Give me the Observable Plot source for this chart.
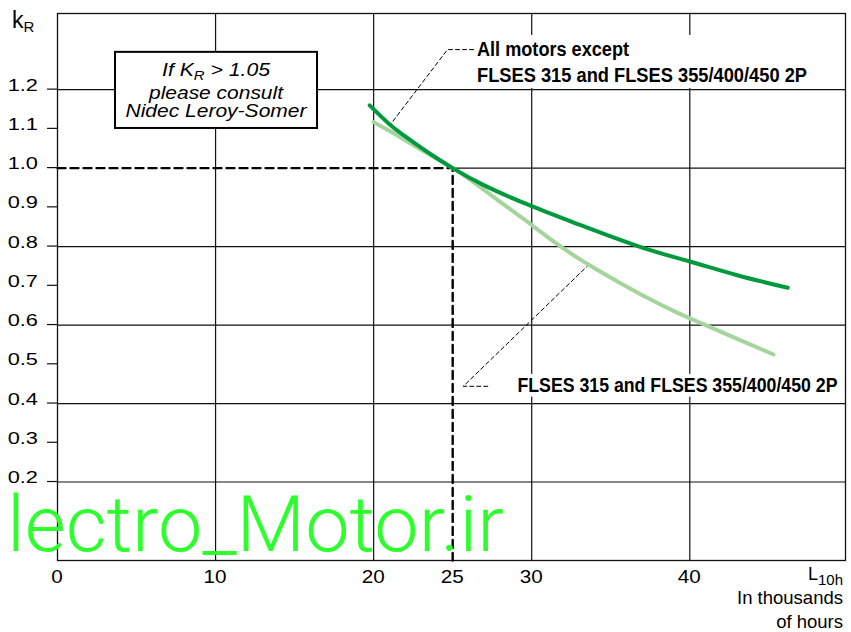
<!DOCTYPE html>
<html>
<head>
<meta charset="utf-8">
<script src="https://cdn.jsdelivr.net/npm/d3@7"></script>
<script src="https://cdn.jsdelivr.net/npm/@observablehq/plot@0.6"></script>
<style>
  html, body { margin: 0; padding: 0; background: #ffffff; }
  #chart { width: 851px; height: 632px; }
</style>
</head>
<body>
<div id="chart"></div>
<script>
// ---------- data ----------
const xTicks = [0, 10, 20, 25, 30, 40];
const yTicks = [0.2, 0.3, 0.4, 0.5, 0.6, 0.7, 0.8, 0.9, 1.0, 1.1, 1.2];
const xGrid = [10, 20, 30, 40];
const yGrid = [0.2, 0.4, 0.6, 0.8, 1.2];
const refL = 25;
const refK = 1.0;

// Curve "All motors except FLSES 315 and FLSES 355/400/450 2P"
const allL = [19.75, 21, 22, 23, 24, 25, 27, 30, 33, 36.8, 40, 43, 46.2];
const allK = [1.16, 1.112, 1.081, 1.052, 1.025, 1.0, 0.956, 0.903, 0.856, 0.80, 0.762, 0.727, 0.695];

// Curve "FLSES 315 and FLSES 355/400/450 2P"
const flsL = [20, 21, 22, 23, 24, 25, 26, 27, 28, 29.3, 30, 31.8, 34, 37, 39.4, 41, 43, 45.3];
const flsK = [1.117, 1.095, 1.071, 1.047, 1.024, 1.0, 0.973, 0.944, 0.914, 0.876, 0.855, 0.801, 0.744, 0.676, 0.628, 0.60, 0.565, 0.525];

const seriesLabels = ["All motors except", "FLSES 315 and FLSES 355/400/450 2P"];
const noteLines = ["please consult", "Nidec Leroy-Somer"];
const yTitle = "k";
const xTitle = "L";
const xUnits = ["In thousands", "of hours"];
const watermark = "lectro_Motor.ir";

// annotation geometry (data coordinates)
const xMax = 49.85, yMax = 1.394;
const noteBox = [{x1: 3.67, x2: 16.45, y1: 1.101, y2: 1.295}];
const labelBoxes = [
  {x1: 26.45, x2: 47.77, y1: 1.203, y2: 1.338},
  {x1: 28.85, x2: 49.5, y1: 0.416, y2: 0.4745}
];
const leaderTop = [[26.32, 1.302], [24.67, 1.302], [21.02, 1.109]];
const leaderBottom = [[27.22, 0.444], [25.67, 0.444], [33.51, 0.750]];

const DARK = "#009a3d";
const LIGHT = "#a6d49d";
const FONT = "'Liberation Sans', Arial, Helvetica, sans-serif";
const NARROW = "'Liberation Sans Narrow', 'Liberation Sans', Arial, sans-serif";

const allData = allL.map((l, i) => ({l, k: allK[i]}));
const flsData = flsL.map((l, i) => ({l, k: flsK[i]}));

// ---------- custom text / tick layer drawn through Plot's scales ----------
function textLayer(index, scales) {
  const x = scales.x, y = scales.y;
  const g = d3.create("svg:g").attr("font-family", FONT).attr("fill", "#000").attr("text-anchor", "start");
  // y tick marks
  for (const v of yTicks) {
    g.append("line").attr("x1", x(0) - 10).attr("x2", x(0)).attr("y1", y(v)).attr("y2", y(v))
      .attr("stroke", "#111").attr("stroke-width", 1.2);
  }
  // y tick labels
  for (const v of yTicks) {
    g.append("text").attr("x", x(0) - 19).attr("y", y(v) + 1.5).attr("text-anchor", "end")
      .attr("font-size", 17).attr("data-stretch", 1.28).text(v.toFixed(1));
  }
  // x tick labels
  for (const v of xTicks) {
    g.append("text").attr("x", x(v)).attr("y", 583).attr("text-anchor", "middle")
      .attr("font-size", 18).attr("data-stretch", 1.15).text(String(v));
  }
  // y title k_R
  const kt = g.append("text").attr("x", 12).attr("y", 28).attr("font-size", 23);
  kt.append("tspan").text(yTitle);
  kt.append("tspan").attr("font-size", 15).attr("dy", 4).text("R");
  // x title L_10h
  const lt = g.append("text").attr("x", 843).attr("y", 580).attr("text-anchor", "end").attr("font-size", 18);
  lt.append("tspan").text(xTitle);
  lt.append("tspan").attr("font-size", 15).attr("dy", 5).text("10h");
  g.append("text").attr("x", 843).attr("y", 604).attr("text-anchor", "end").attr("font-size", 18.5).text(xUnits[0]);
  g.append("text").attr("x", 843).attr("y", 628).attr("text-anchor", "end").attr("font-size", 18.5).text(xUnits[1]);
  // note in box
  const cx = x(10.06);
  const n1 = g.append("text").attr("x", cx).attr("y", 76).attr("text-anchor", "middle")
    .attr("font-size", 18.5).attr("font-style", "italic").attr("data-w", 108);
  n1.append("tspan").text("If K");
  n1.append("tspan").attr("font-size", 13).attr("dy", 4).text("R");
  n1.append("tspan").attr("dy", -4).text(" > 1.05");
  g.append("text").attr("x", cx).attr("y", 99).attr("text-anchor", "middle").attr("font-size", 18.5)
    .attr("font-style", "italic").attr("data-w", 134).text(noteLines[0]);
  g.append("text").attr("x", cx).attr("y", 117).attr("text-anchor", "middle").attr("font-size", 18.5)
    .attr("font-style", "italic").attr("data-w", 181).text(noteLines[1]);
  // series labels
  g.append("text").attr("x", x(26.57)).attr("y", y(1.285)).attr("font-family", NARROW)
    .attr("font-weight", "bold").attr("font-size", 19.5).attr("data-w", 152).text(seriesLabels[0]);
  g.append("text").attr("x", x(26.57)).attr("y", y(1.218)).attr("font-family", NARROW)
    .attr("font-weight", "bold").attr("font-size", 19.5).attr("data-w", 330).text(seriesLabels[1]);
  g.append("text").attr("x", x(29.13)).attr("y", y(0.429)).attr("font-family", NARROW)
    .attr("font-weight", "bold").attr("font-size", 19.5).attr("data-w", 320).text(seriesLabels[1]);
  return g.node();
}

function watermarkLayer(index, scales) {
  const g = d3.create("svg:g").attr("text-anchor", "start");
  g.append("text").attr("x", 7).attr("y", 551).attr("font-family", "Roboto, 'Noto Sans', sans-serif")
    .attr("font-weight", 300).attr("font-size", 78).attr("fill", "#2cff2c")
    .attr("data-w", 497).text(watermark);
  return g.node();
}

const chart = Plot.plot({
  width: 851,
  height: 632,
  marginTop: 13,
  marginBottom: 72,
  marginLeft: 57,
  marginRight: 6,
  x: {domain: [0, xMax], axis: null},
  y: {domain: [0, yMax], axis: null},
  style: {background: "#ffffff", color: "#000", fontFamily: FONT},
  marks: [
    Plot.ruleX(xGrid, {stroke: "#111", strokeWidth: 1.2}),
    Plot.ruleY(yGrid, {stroke: "#111", strokeWidth: 1.2}),
    Plot.ruleY([{y: refK, x1: refL, x2: xMax}], {y: "y", x1: "x1", x2: "x2", stroke: "#111", strokeWidth: 1.2}),
    Plot.frame({stroke: "#111", strokeWidth: 1.3}),
    Plot.rect(labelBoxes, {x1: "x1", x2: "x2", y1: "y1", y2: "y2", fill: "#fff"}),
    Plot.line([[0, refK], [refL, refK], [refL, 0]], {stroke: "#000", strokeWidth: 2.4, strokeDasharray: "8,5"}),
    Plot.line(leaderTop, {stroke: "#000", strokeWidth: 1, strokeDasharray: "4,3"}),
    Plot.line(leaderBottom, {stroke: "#000", strokeWidth: 1, strokeDasharray: "4,3"}),
    Plot.rect(noteBox, {x1: "x1", x2: "x2", y1: "y1", y2: "y2", fill: "#fff", stroke: "#000", strokeWidth: 2}),
    Plot.line(flsData, {x: "l", y: "k", stroke: LIGHT, strokeWidth: 4, curve: "natural"}),
    Plot.line(allData, {x: "l", y: "k", stroke: DARK, strokeWidth: 4, curve: "natural"}),
    textLayer,
    watermarkLayer
  ]
});
document.getElementById("chart").append(chart);

// fit text widths to the reference
chart.querySelectorAll("text[data-w]").forEach(t => {
  t.setAttribute("textLength", t.getAttribute("data-w"));
  t.setAttribute("lengthAdjust", "spacingAndGlyphs");
});
chart.querySelectorAll("text[data-stretch]").forEach(t => {
  const w = t.getComputedTextLength() * +t.getAttribute("data-stretch");
  t.setAttribute("textLength", w.toFixed(1));
  t.setAttribute("lengthAdjust", "spacingAndGlyphs");
});
</script>
</body>
</html>
